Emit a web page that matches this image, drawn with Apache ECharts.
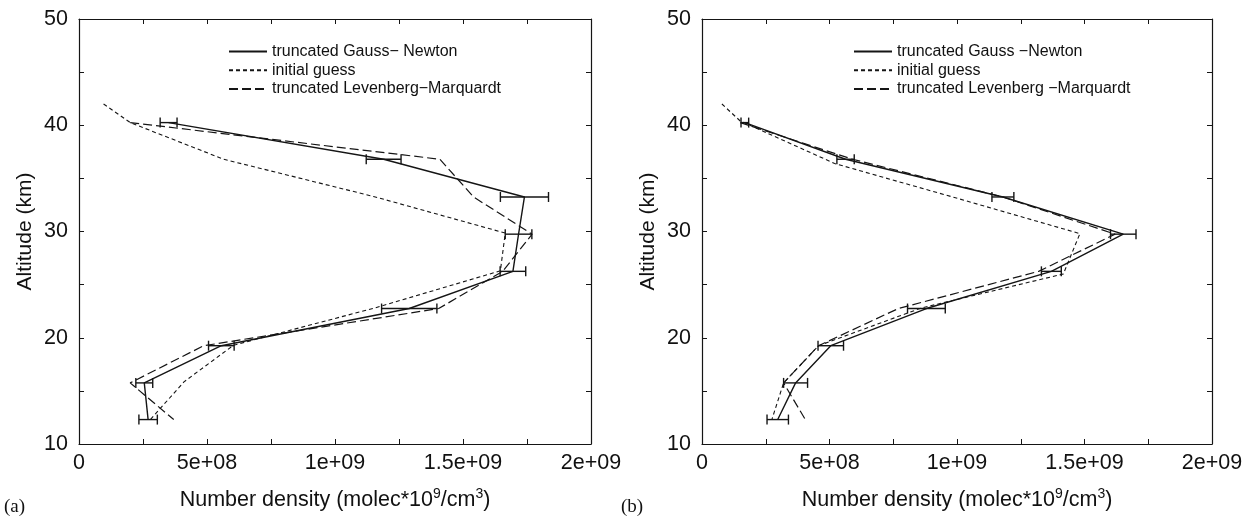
<!DOCTYPE html>
<html>
<head>
<meta charset="utf-8">
<script src="https://cdn.jsdelivr.net/npm/echarts@6/dist/echarts.min.js"></script>
<style>
html,body{margin:0;padding:0;background:#fff;}
#chart{width:1249px;height:518px;}
</style>
</head>
<body>
<div id="chart"></div>
<script>
// ---------- data (values in units of 1e9 molec/cm3, altitude in km) ----------
const retrievalAltitudes = [40.25, 36.8, 33.25, 29.75, 26.25, 22.75, 19.25, 15.75, 12.3];

// panel (a)
const aGaussNewton      = [0.35, 1.19, 1.74, 1.717, 1.695, 1.29, 0.556, 0.255, 0.27];
const aGaussNewtonError = [0.033, 0.068, 0.094, 0.052, 0.05, 0.108, 0.05, 0.033, 0.036];
const aLevenberg        = [0.2, 1.41, 1.541, 1.77, 1.655, 1.405, 0.487, 0.2, 0.37];
const aGuessAltitudes   = [42.0, 40.25, 36.8, 33.3, 29.85, 26.3, 22.8, 19.3, 15.85, 12.3];
const aGuess            = [0.096, 0.2, 0.565, 1.15, 1.665, 1.646, 1.155, 0.604, 0.41, 0.279];

// panel (b)
const bGaussNewton      = [0.168, 0.563, 1.18, 1.652, 1.37, 0.88, 0.505, 0.367, 0.297];
const bGaussNewtonError = [0.015, 0.034, 0.043, 0.05, 0.039, 0.074, 0.05, 0.047, 0.042];
const bLevenberg        = [0.15, 0.59, 1.18, 1.62, 1.32, 0.77, 0.457, 0.32, 0.405];
const bGuessAltitudes   = [42.0, 40.4, 36.4, 33.2, 29.8, 26.0, 22.8, 19.25, 15.75, 12.3];
const bGuess            = [0.078, 0.15, 0.52, 0.99, 1.482, 1.417, 0.86, 0.457, 0.32, 0.274];

const xTickValues = [0, 5e8, 1e9, 1.5e9, 2e9];
const xTickLabels = ['0', '5e+08', '1e+09', '1.5e+09', '2e+09'];
const yTickLabels = ['10', '20', '30', '40', '50'];

const aNames = ['truncated Gauss\u2212 Newton', 'initial guess', 'truncated Levenberg\u2212Marquardt'];
const bNames = ['truncated Gauss \u2212Newton', 'initial guess ', 'truncated Levenberg \u2212Marquardt'];

// ---------- helpers ----------
const SCALE = 1e9;
function pairs(vals, alts){ return vals.map((v,i)=>[v*SCALE, alts[i]]); }
function errTriples(vals, errs, alts){ return vals.map((v,i)=>[v*SCALE, alts[i], errs[i]*SCALE]); }

const FONT = 'Liberation Sans, Arial, Helvetica, sans-serif';
const INK = '#151515';

function xAxisCfg(gridIndex, pos){
  const bottom = pos === 'bottom';
  return {
    type:'value', gridIndex, position:pos, min:0, max:2e9, interval:2.5e8,
    axisLine:{show:true, onZero:false, lineStyle:{color:INK, width:1.2}},
    axisTick:{show:true, inside:true, length:5, lineStyle:{color:INK, width:1}},
    splitLine:{show:false},
    axisLabel:{show:bottom, margin:8, color:'#111', fontSize:21.5, fontFamily:FONT,
      formatter:(v)=>{ const k = xTickValues.indexOf(v); return k>=0 ? xTickLabels[k] : ''; }},
    name: bottom ? 'Number density (molec*10{sup|9}/cm{sup|3})' : '',
    nameLocation:'middle', nameGap:43,
    nameTextStyle:{color:'#111', fontSize:21.5, fontFamily:FONT, lineHeight:26,
      rich:{sup:{fontSize:14, fontFamily:FONT, color:'#111', verticalAlign:'top', lineHeight:14, padding:[0,0,7,0]}}}
  };
}
function yAxisCfg(gridIndex, pos){
  const left = pos === 'left';
  return {
    type:'value', gridIndex, position:pos, min:10, max:50, interval:5,
    axisLine:{show:true, onZero:false, lineStyle:{color:INK, width:1.2}},
    axisTick:{show:true, inside:true, length:5, lineStyle:{color:INK, width:1}},
    splitLine:{show:false},
    axisLabel:{show:left, margin:11, color:'#111', fontSize:21.5, fontFamily:FONT,
      formatter:(v)=>{ const k = yTickLabels.indexOf(String(v)); return k>=0 ? yTickLabels[k] : ''; }},
    name: left ? 'Altitude (km)' : '', nameLocation:'middle', nameGap:43, nameRotate:90,
    nameTextStyle:{color:'#111', fontSize:21, fontFamily:FONT}
  };
}

function lineSeries(name, data, xi, yi, dash, width){
  return {
    type:'line', name, data, xAxisIndex:xi, yAxisIndex:yi,
    symbol:'none', showSymbol:false, smooth:false, silent:true,
    lineStyle:{color:INK, width, type:dash},
    itemStyle:{color:INK}, z:3
  };
}
function errSeries(data, xi, yi){
  return {
    type:'custom', data, xAxisIndex:xi, yAxisIndex:yi, silent:true, z:4,
    encode:{x:0, y:1},
    renderItem:(params, api)=>{
      const x = api.value(0), y = api.value(1), e = api.value(2);
      const p1 = api.coord([x - e, y]);
      const p2 = api.coord([x + e, y]);
      const cap = 5;
      const st = {stroke:INK, lineWidth:1.4};
      return {type:'group', children:[
        {type:'line', shape:{x1:p1[0], y1:p1[1], x2:p2[0], y2:p2[1]}, style:st},
        {type:'line', shape:{x1:p1[0], y1:p1[1]-cap, x2:p1[0], y2:p1[1]+cap}, style:st},
        {type:'line', shape:{x1:p2[0], y1:p2[1]-cap, x2:p2[0], y2:p2[1]+cap}, style:st}
      ]};
    }
  };
}

const SHORT = [4,3];
const LONG = [9,4];

function legendCfg(left, names){
  return {
    left, top:38, orient:'vertical', itemWidth:38, itemHeight:12, itemGap:1.7,
    data:names, selectedMode:false,
    itemStyle:{opacity:0},
    textStyle:{color:'#111', fontSize:16, fontFamily:FONT, lineHeight:17}
  };
}

const option = {
  animation:false,
  backgroundColor:'#fff',
  grid:[
    {left:79, top:19, width:512, height:427},
    {left:702, top:19, width:510, height:427}
  ],
  xAxis:[ xAxisCfg(0,'bottom'), xAxisCfg(1,'bottom'), xAxisCfg(0,'top'), xAxisCfg(1,'top') ],
  yAxis:[ yAxisCfg(0,'left'), yAxisCfg(1,'left'), yAxisCfg(0,'right'), yAxisCfg(1,'right') ],
  legend:[ legendCfg(223, aNames), legendCfg(848, bNames) ],
  series:[
    lineSeries(aNames[0], pairs(aGaussNewton, retrievalAltitudes), 0, 0, 'solid', 1.4),
    lineSeries(aNames[1], pairs(aGuess, aGuessAltitudes), 0, 0, SHORT, 1.1),
    lineSeries(aNames[2], pairs(aLevenberg, retrievalAltitudes), 0, 0, LONG, 1.2),
    errSeries(errTriples(aGaussNewton, aGaussNewtonError, retrievalAltitudes), 0, 0),
    lineSeries(bNames[0], pairs(bGaussNewton, retrievalAltitudes), 1, 1, 'solid', 1.4),
    lineSeries(bNames[1], pairs(bGuess, bGuessAltitudes), 1, 1, SHORT, 1.1),
    lineSeries(bNames[2], pairs(bLevenberg, retrievalAltitudes), 1, 1, LONG, 1.2),
    errSeries(errTriples(bGaussNewton, bGaussNewtonError, retrievalAltitudes), 1, 1)
  ],
  graphic:[
    {type:'text', left:4, top:498, style:{text:'(a)', fill:'#111', fontSize:19, fontFamily:'Liberation Serif, Times New Roman, serif'}},
    {type:'text', left:621, top:498, style:{text:'(b)', fill:'#111', fontSize:19, fontFamily:'Liberation Serif, Times New Roman, serif'}}
  ]
};

const chart = echarts.init(document.getElementById('chart'), null, {renderer:'canvas'});
chart.setOption(option);
</script>
</body>
</html>
